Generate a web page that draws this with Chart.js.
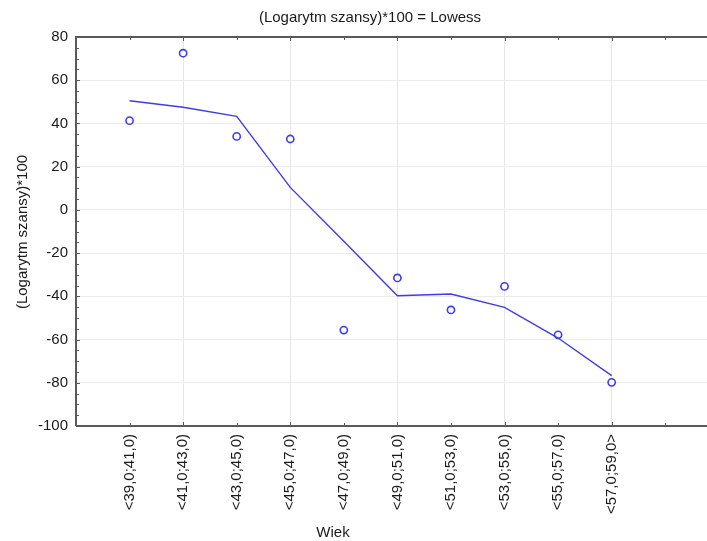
<!DOCTYPE html>
<html lang="pl">
<head>
<meta charset="UTF-8">
<title>Lowess</title>
<style>
    html, body { margin: 0; padding: 0; background: #ffffff; overflow: hidden; }
    #wrap { width: 707px; height: 541px; position: relative; }
    canvas { display: block; }
</style>
<script src="https://cdn.jsdelivr.net/npm/chart.js"></script>
</head>
<body>
<div id="wrap"><canvas id="chart" width="707" height="541"></canvas></div>
<script>
// data
var categories = ['<39,0;41,0)', '<41,0;43,0)', '<43,0;45,0)', '<45,0;47,0)', '<47,0;49,0)',
                  '<49,0;51,0)', '<51,0;53,0)', '<53,0;55,0)', '<55,0;57,0)', '<57,0;59,0>'];
var observed = [41.3, 72.5, 34.0, 32.8, -55.6, -31.5, -46.3, -35.4, -57.8, -79.8];
var lowess = [50.5, 47.5, 43.3, 10.4, -14.5, -39.7, -38.9, -45.1, -59.3, -76.7];
var yMin = -100, yMax = 80, yStep = 20;
var titleText = '(Logarytm szansy)*100 = Lowess';
var yTitle = '(Logarytm szansy)*100';
var xTitle = 'Wiek';

var FONT = '"Liberation Sans", Arial, sans-serif';
var BLUE = '#3c3cf0';

function toPoints(arr) {
    return arr.map(function(v, i) { return { x: i + 1, y: v }; });
}

// frame, inward tick marks and titles
var framePlugin = {
    id: 'frame',
    afterDraw: function(chart) {
        var ctx = chart.ctx;
        var a = chart.chartArea;
        var xs = chart.scales.x, ys = chart.scales.y;
        ctx.save();
        ctx.strokeStyle = '#5a5a5a';
        ctx.lineWidth = 2;
        ctx.beginPath();
        ctx.moveTo(a.left, a.bottom);
        ctx.lineTo(a.left, a.top);
        ctx.lineTo(a.right, a.top);
        ctx.moveTo(a.left, a.bottom);
        ctx.lineTo(a.right, a.bottom);
        ctx.stroke();

        ctx.lineWidth = 1;
        ctx.beginPath();
        for (var v = yMin; v <= yMax; v += 5) {
            var py = Math.round(ys.getPixelForValue(v)) + 0.5;
            var len = (v % 20 === 0) ? 4 : 3;
            ctx.moveTo(a.left, py);
            ctx.lineTo(a.left + len, py);
        }
        for (var i = 1; i <= 12; i++) {
            var px = Math.round(xs.getPixelForValue(i)) + 0.5;
            if (px > a.right) break;
            var l2 = (i % 2 === 0) ? 4 : 3;
            ctx.moveTo(px, a.bottom);
            ctx.lineTo(px, a.bottom - l2);
            ctx.moveTo(px, a.top);
            ctx.lineTo(px, a.top + l2);
        }
        ctx.stroke();

        ctx.fillStyle = '#1a1a1a';
        ctx.font = '15px ' + FONT;
        ctx.textAlign = 'center';
        ctx.textBaseline = 'middle';
        ctx.fillText(titleText, 370, 18);
        ctx.fillText(xTitle, 333, 533);
        ctx.translate(23, 232);
        ctx.rotate(-Math.PI / 2);
        ctx.fillText(yTitle, 0, 0);
        ctx.restore();
    }
};

var ctx = document.getElementById('chart').getContext('2d');

new Chart(ctx, {
    type: 'scatter',
    data: {
        datasets: [{
            type: 'line',
            label: 'Lowess',
            data: toPoints(lowess),
            borderColor: BLUE,
            borderWidth: 1.4,
            pointRadius: 0,
            fill: false,
            tension: 0
        }, {
            label: 'Logarytm szansy',
            data: toPoints(observed),
            borderColor: BLUE,
            backgroundColor: '#ffffff',
            borderWidth: 1.6,
            pointRadius: 3.6,
            pointStyle: 'circle'
        }]
    },
    options: {
        responsive: false,
        animation: false,
        layout: { autoPadding: false, padding: { top: 37, left: 0, right: 0, bottom: 0 } },
        plugins: {
            legend: { display: false },
            title: { display: false },
            tooltip: { enabled: false }
        },
        scales: {
            x: {
                type: 'linear',
                min: 0,
                max: 11.78,
                afterFit: function(scale) {
                    scale.height = 115;
                    scale.paddingLeft = 0;
                    scale.paddingRight = 0;
                },
                ticks: {
                    stepSize: 1,
                    autoSkip: false,
                    includeBounds: false,
                    minRotation: 90,
                    maxRotation: 90,
                    padding: 8,
                    color: '#1a1a1a',
                    font: { family: FONT, size: 15 },
                    callback: function(value) {
                        return (value >= 1 && value <= categories.length && value % 1 === 0) ? categories[value - 1] : '';
                    }
                },
                grid: {
                    drawTicks: false,
                    lineWidth: 1,
                    color: function(c) {
                        var v = c.tick ? c.tick.value : 0;
                        return (v > 0 && v % 2 === 0) ? '#e6e6e6' : 'rgba(0,0,0,0)';
                    }
                },
                border: { display: false }
            },
            y: {
                min: yMin,
                max: yMax,
                afterFit: function(scale) { scale.width = 76; },
                ticks: {
                    stepSize: yStep,
                    padding: 8,
                    color: '#1a1a1a',
                    font: { family: FONT, size: 15 }
                },
                grid: {
                    drawTicks: false,
                    lineWidth: 1,
                    color: '#ececec'
                },
                border: { display: false }
            }
        }
    },
    plugins: [framePlugin]
});
</script>
</body>
</html>
